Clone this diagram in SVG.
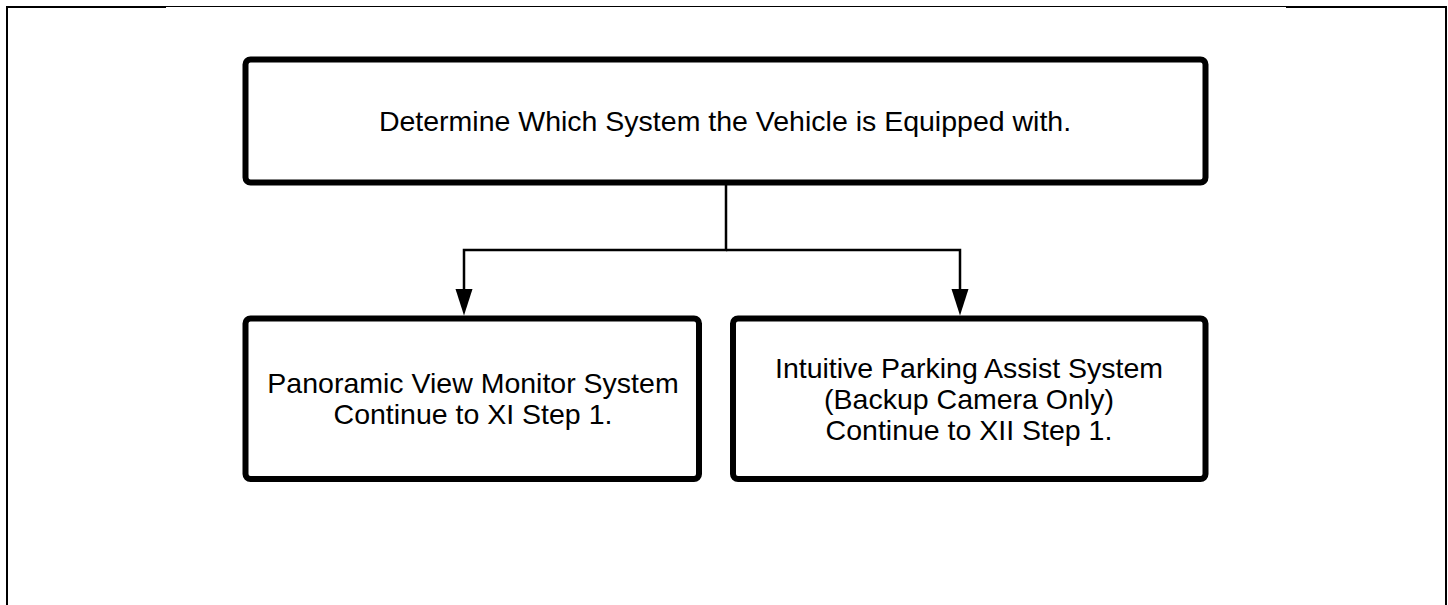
<svg xmlns="http://www.w3.org/2000/svg" width="1448" height="605" viewBox="0 0 1448 605">
<style>
.box{fill:#fff;stroke:#000;stroke-width:6}
.t{font-family:"Liberation Sans",Arial,sans-serif;font-size:28.5px;fill:#000;text-anchor:middle}
.ln{fill:none;stroke:#000;stroke-width:2.5}
</style>
<rect width="1448" height="605" fill="#fff"/>
<g id="frame" fill="none" stroke="#000">
<path d="M7,605 V7 H166" stroke-width="2"/>
<path d="M166,6.5 H1286" stroke-width="1"/>
<path d="M1286,7 H1446 V605" stroke-width="2"/>
</g>
<g id="connectors">
<path class="ln" d="M726,183 V250 H464 V290"/>
<path class="ln" d="M726,250 H960 V290"/>
<path d="M455.5,289 L472.5,289 L464,315.5 Z" fill="#000"/>
<path d="M951.5,289 L968.5,289 L960,315.5 Z" fill="#000"/>
</g>
<g id="top">
<rect class="box" x="245.5" y="59.5" width="960" height="123" rx="5"/>
<text class="t" x="725" y="131">Determine Which System the Vehicle is Equipped with.</text>
</g>
<g id="left">
<rect class="box" x="245.5" y="318.5" width="453.5" height="160.5" rx="5"/>
<text class="t" x="473" y="392.5">Panoramic View Monitor System</text>
<text class="t" x="473" y="423.5">Continue to XI Step 1.</text>
</g>
<g id="right">
<rect class="box" x="733" y="318.5" width="472.5" height="160.5" rx="5"/>
<text class="t" x="969" y="377.5">Intuitive Parking Assist System</text>
<text class="t" x="969" y="408.5">(Backup Camera Only)</text>
<text class="t" x="969" y="439.5">Continue to XII Step 1.</text>
</g>
</svg>
